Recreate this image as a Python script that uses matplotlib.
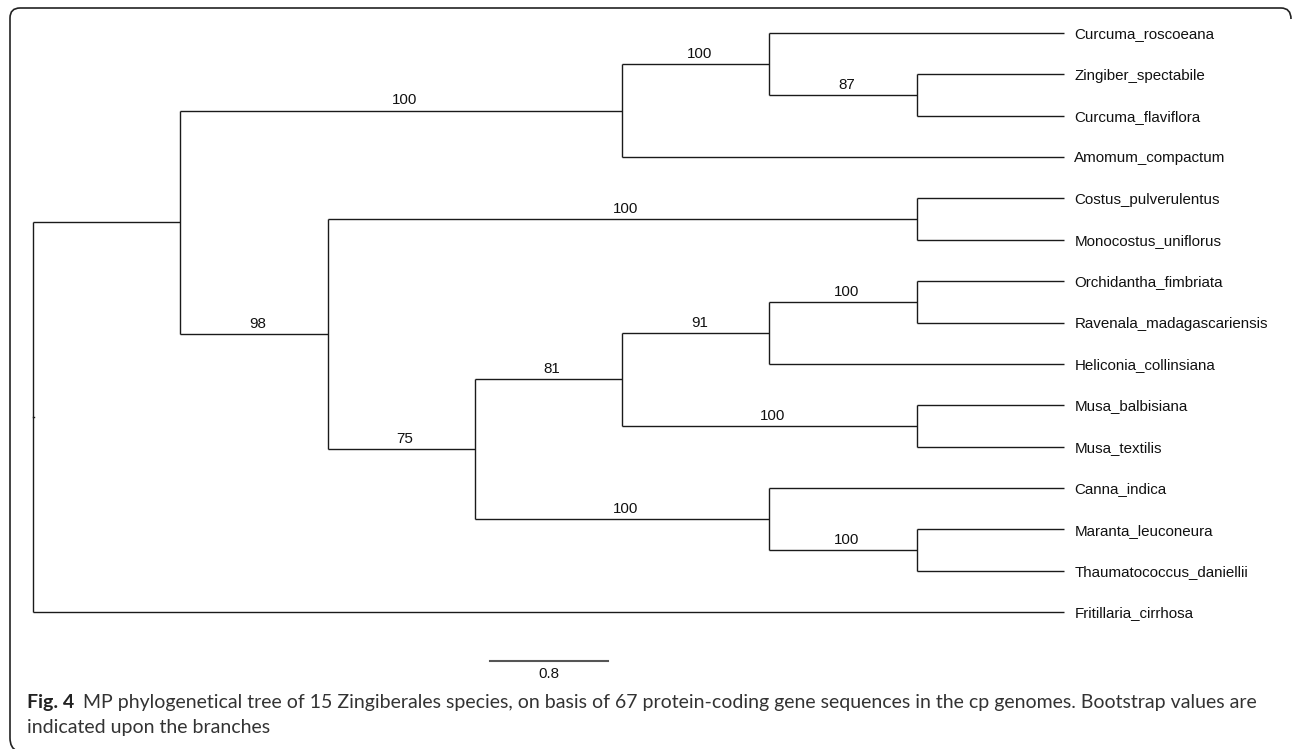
import numpy as np
import matplotlib
matplotlib.use("Agg")
import matplotlib.pyplot as plt
from matplotlib.path import Path
from matplotlib.patches import PathPatch

# tips, top to bottom
taxa = [
    "Curcuma_roscoeana", "Zingiber_spectabile", "Curcuma_flaviflora",
    "Amomum_compactum", "Costus_pulverulentus", "Monocostus_uniflorus",
    "Orchidantha_fimbriata", "Ravenala_madagascariensis",
    "Heliconia_collinsiana", "Musa_balbisiana", "Musa_textilis",
    "Canna_indica", "Maranta_leuconeura", "Thaumatococcus_daniellii",
    "Fritillaria_cirrhosa",
]

# clades as tip indices, with bootstrap support (None = no label)
clades = [
    (1, 2), (0, 1, 2), (0, 1, 2, 3),
    (4, 5), (6, 7), (6, 7, 8), (9, 10), (6, 7, 8, 9, 10),
    (12, 13), (11, 12, 13), tuple(range(6, 14)), tuple(range(4, 14)),
    tuple(range(0, 14)), tuple(range(0, 15)),
]
support = [87, 100, 100, 100, 100, 91, 100, 81, 100, 100, 75, 98, None, None]

scale_len = 0.8

caption_bold = "Fig. 4"
caption_1 = ("MP phylogenetical tree of 15 Zingiberales species, on basis of 67 "
             "protein-coding gene sequences in the cp genomes. Bootstrap values are")
caption_2 = "indicated upon the branches"

W, H = 1293, 749
fig = plt.figure(figsize=(W / 100, H / 100), dpi=100)

# ---- build cladogram layout ----
n = len(taxa)
ypos = {("t", i): float(i) for i in range(n)}
height = {("t", i): 0 for i in range(n)}
top = {i: ("t", i) for i in range(n)}
children, parent = {}, {}
for k in sorted(range(len(clades)), key=lambda k: len(clades[k])):
    kids = []
    for t in sorted(clades[k]):
        if top[t] not in kids:
            kids.append(top[t])
    node = ("c", k)
    children[node] = kids
    for c in kids:
        parent[c] = node
    ypos[node] = np.mean([ypos[c] for c in kids])
    height[node] = 1 + max(height[c] for c in kids)
    for t in clades[k]:
        top[t] = node
root = top[0]
depth = height[root]
xpos = {nd: depth - h for nd, h in height.items()}

# ---- tree axes ----
X0, XT, Y0, YN = 33, 1064, 33, 612
step = (XT - X0) / depth
sp = (YN - Y0) / (n - 1)
ax = fig.add_axes([0, 0, 1, 1])
ax.set_xlim((0 - X0) / step, (W - X0) / step)
ax.set_ylim((H - Y0) / sp, (0 - Y0) / sp)
ax.axis("off")

lc = "#1a1a1a"
lw = 1.0
for node, kids in children.items():
    ys = [ypos[c] for c in kids]
    ax.plot([xpos[node]] * 2, [min(ys), max(ys)], color=lc, lw=lw,
            solid_capstyle="butt")
    for c in kids:
        ax.plot([xpos[node], xpos[c]], [ypos[c]] * 2, color=lc, lw=lw,
                solid_capstyle="butt")
# tiny root stub
ax.plot([xpos[root], xpos[root] + 0.008], [ypos[root]] * 2, color=lc, lw=lw)

tfont = dict(family=["Liberation Sans", "DejaVu Sans"], fontsize=10.9,
             color="#111111")
for i, name in enumerate(taxa):
    ax.annotate(name, (xpos[("t", i)], ypos[("t", i)]), xytext=(7.5, -3.8),
                textcoords="offset points", ha="left", va="baseline", **tfont)

for k, s in enumerate(support):
    if s is None:
        continue
    node = ("c", k)
    mid = (xpos[parent[node]] + xpos[node]) / 2
    ax.annotate(str(s), (mid, ypos[node]), xytext=(2.5, 4.5),
                textcoords="offset points", ha="center", va="baseline", **tfont)

# scale bar
sb_x = (490 - X0) / step
sb_y = (661 - Y0) / sp
ax.plot([sb_x, sb_x + scale_len], [sb_y, sb_y], color="#555555", lw=1.5)
ax.annotate(f"{scale_len:g}", (sb_x + scale_len / 2, sb_y), xytext=(0, -12.5),
            textcoords="offset points", ha="center", va="baseline", **tfont)

# ---- frame + caption (pixel axes) ----
ax2 = fig.add_axes([0, 0, 1, 1])
ax2.set_xlim(0, W)
ax2.set_ylim(H, 0)
ax2.axis("off")
ax2.patch.set_alpha(0)

verts = [(1291, 19), (1291, 8), (1281, 8), (20, 8), (10, 8), (10, 18),
         (10, 738), (10, 748), (17, 751)]
codes = [Path.MOVETO, Path.CURVE3, Path.CURVE3, Path.LINETO, Path.CURVE3,
         Path.CURVE3, Path.LINETO, Path.CURVE3, Path.CURVE3]
ax2.add_patch(PathPatch(Path(verts, codes), fill=False, ec="#222222", lw=1.2))

cfont = ["Lato", "DejaVu Sans"]
fs = 11.0
renderer = fig.canvas.get_renderer()
for _ in range(3):
    for t in list(ax2.texts):
        t.remove()
    tb = ax2.text(27, 708, caption_bold, fontsize=fs, fontweight="bold",
                  family=cfont, color="#222222", va="baseline")
    bx = tb.get_window_extent(renderer).x1
    t1 = ax2.text(bx + 9, 708, caption_1, fontsize=fs, family=cfont,
                  color="#333333", va="baseline")
    ax2.text(27, 733, caption_2, fontsize=fs, family=cfont, color="#333333",
             va="baseline")
    end = t1.get_window_extent(renderer).x1
    fs *= (1252 - 27) / (end - 27)

fig.savefig("out.png", dpi=100)
